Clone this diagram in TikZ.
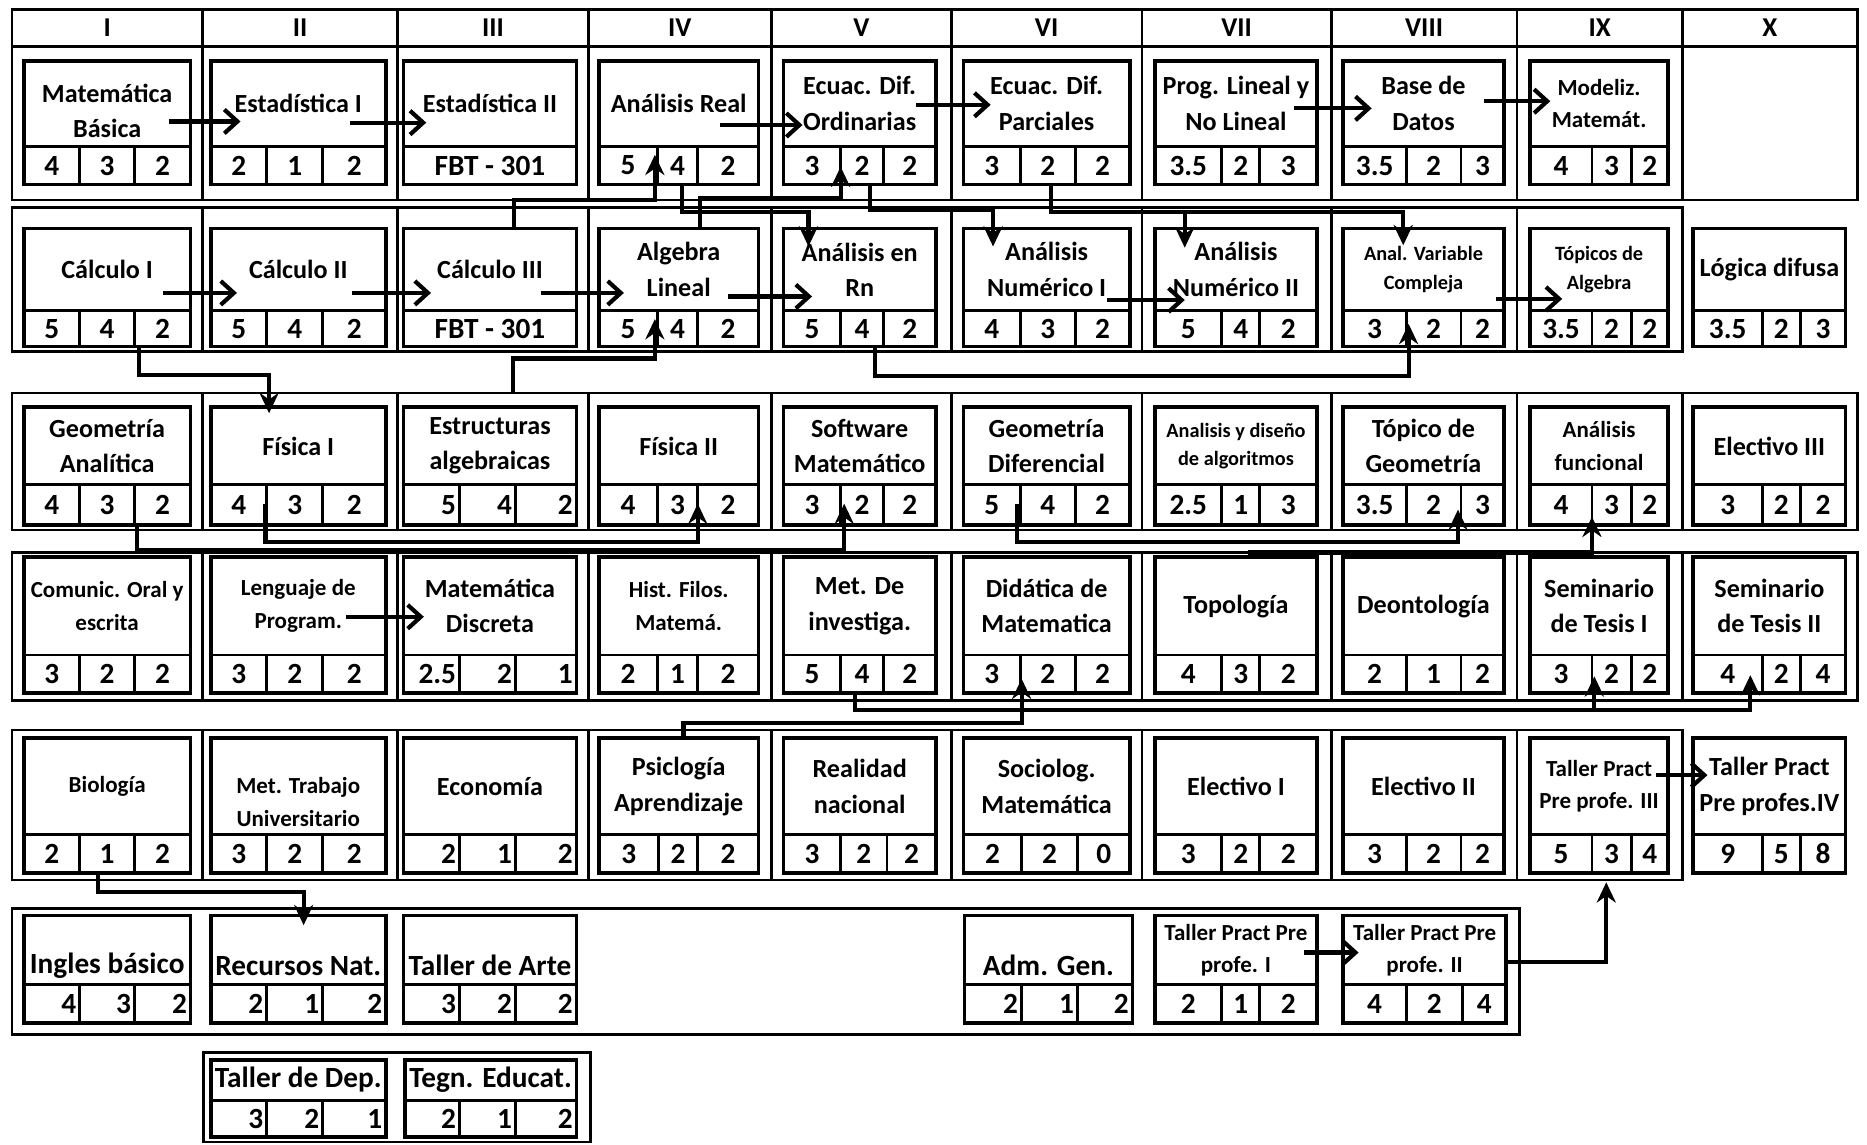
\documentclass[tikz,border=0pt]{standalone}
\usepackage{fontspec}
\setmainfont{Carlito}
\usetikzlibrary{fit,calc,arrows.meta}

\tikzset{
  band/.style={line width=1.3pt},
  cboxst/.style={draw, line width=1.7pt, inner sep=0pt, outer sep=0pt},
  cell/.style={line width=1.3pt},
  ttl/.style={font=\bfseries\fontsize{12.5}{17}\selectfont, align=center, inner sep=0pt},
  ttls/.style={font=\bfseries\fontsize{9.7}{13.5}\selectfont},
  ttlm/.style={font=\bfseries\fontsize{11}{15.5}\selectfont},
  ttll/.style={font=\bfseries\fontsize{14}{16}\selectfont},
  num/.style={font=\bfseries\fontsize{14}{15}\selectfont, inner sep=1.5pt},
  hdr/.style={font=\bfseries\fontsize{13}{14}\selectfont, inner sep=0pt},
  conn/.style={line width=2pt},
  harr/.style={conn, -{Straight Barb[length=0.22cm,width=0.4cm]}},
  varr/.style={conn, -{Stealth[length=0.34cm,width=0.32cm]}},
}

% #1 title opts, #2 name, #3 xl, #4 xr, #5 ytop, #6 ysplit, #7 ybottom, #8 title
\newcommand\coursebox[8][]{%
  \node[cboxst, fit={(#3,#5) (#4,#7)}] (#2) {};
  \draw[cell] (#3,#6) -- (#4,#6);
  \node[ttl,#1] (#2-t) at ($(#3,#5)!.5!(#4,#6)$) {#8};
}
% #1 name, #2 ysplit, #3 d1, #4 d2, #5 n1, #6 n2, #7 n3
\newcommand\cnums[7]{%
  \draw[cell] (#3,#2) -- (#3,#2 |- #1.south);
  \draw[cell] (#4,#2) -- (#4,#2 |- #1.south);
  \node[num] (#1-a) at ($(#1.south west)!.5!(#3,#2)$) {#5};
  \node[num] (#1-b) at ($(#3,#2 |- #1.south)!.5!(#4,#2)$) {#6};
  \node[num] (#1-c) at ($(#4,#2)!.5!(#1.south east)$) {#7};
}
\newcommand\cnumsr[7]{%
  \draw[cell] (#3,#2) -- (#3,#2 |- #1.south);
  \draw[cell] (#4,#2) -- (#4,#2 |- #1.south);
  \node[num,anchor=east] (#1-a) at ($(#3,#2)!.5!(#3,#2 |- #1.south)$) {#5};
  \node[num,anchor=east] (#1-b) at ($(#4,#2)!.5!(#4,#2 |- #1.south)$) {#6};
  \node[num,anchor=east] (#1-c) at ($(#1.east |- 0,#2)!.5!(#1.south east)$) {#7};
}
\newcommand\cnumone[3]{%
  \node[num] (#1-a) at ($(#1.south west)!.5!(#1.east |- 0,#2)$) {#3};
}

\begin{document}
\begin{tikzpicture}[x=0.02cm,y=-0.02cm]
\useasboundingbox (0,0) rectangle (1568,961);

% ---------- header and bands ----------
\draw[band] (10,8) rectangle (1560,39);
\draw[band] (10,39) rectangle (1560,168);
\foreach \x in {170,334,494,648,799,959,1118,1274,1413} \draw[band] (\x,8) -- (\x,168);
\foreach \x/\l/\n in {90/I/hI,252/II/hII,414/III/hIII,571/IV/hIV,723.5/V/hV,879/VI/hVI,1038.5/VII/hVII,1196/VIII/hVIII,1343.5/IX/hIX,1486.5/X/hX}
  \node[hdr] (\n) at (\x,23.5) {\l};

\draw[band] (10,174) rectangle (1413,295);
\foreach \x in {170,334,494,648,799,959,1118,1274} \draw[band] (\x,174) -- (\x,295);
\draw[band] (10,330) rectangle (1560,445);
\foreach \x in {170,334,494,648,799,959,1118,1274,1413} \draw[band] (\x,330) -- (\x,445);
\draw[band] (10,464) rectangle (1560,588);
\foreach \x in {170,334,494,648,799,959,1118,1274,1413} \draw[band] (\x,464) -- (\x,588);
\draw[band] (10,613) rectangle (1413,739);
\foreach \x in {170,334,494,648,799,959,1118,1274} \draw[band] (\x,613) -- (\x,739);
\draw[band] (10,763) rectangle (1276,869);
\draw[band] (171,884) rectangle (496,959);

% ---------- row 1 ----------
\coursebox[yshift=-0.12cm]{mb}{20}{160}{51}{123}{155}{Matemática\\Básica}
\cnums{mb}{123}{67}{113}{4}{3}{2}
\coursebox{est1}{177}{324}{51}{123}{155}{Estadística I}
\cnums{est1}{123}{224}{271}{2}{1}{2}
\coursebox{est2}{339}{484}{51}{123}{155}{Estadística II}
\cnumone{est2}{123}{FBT - 301}
\coursebox{anr}{503}{637}{51}{123}{155}{Análisis Real}
\cnums{anr}{123}{552}{586}{5}{4}{2}
\coursebox{edo}{658}{786}{51}{123}{155}{Ecuac. Dif.\\Ordinarias}
\cnums{edo}{123}{706}{742}{3}{2}{2}
\coursebox{edp}{809}{949}{51}{123}{155}{Ecuac. Dif.\\Parciales}
\cnums{edp}{123}{857}{903}{3}{2}{2}
\coursebox{prog}{970}{1106}{51}{123}{155}{Prog. Lineal y\\No Lineal}
\cnums{prog}{123}{1026}{1058}{3.5}{2}{3}
\coursebox{bd}{1128}{1263}{51}{123}{155}{Base de\\Datos}
\cnums{bd}{123}{1181}{1227}{3.5}{2}{3}
\coursebox[ttlm]{mod}{1285}{1401}{51}{123}{155}{Modeliz.\\Matemát.}
\cnums{mod}{123}{1337}{1370}{4}{3}{2}

% ---------- row 2 ----------
\coursebox{c1}{20}{160}{192}{261}{291}{Cálculo I}
\cnums{c1}{261}{67}{113}{5}{4}{2}
\coursebox{c2}{177}{324}{192}{261}{291}{Cálculo II}
\cnums{c2}{261}{224}{271}{5}{4}{2}
\coursebox{c3}{339}{484}{192}{261}{291}{Cálculo III}
\cnumone{c3}{261}{FBT - 301}
\coursebox{al}{503}{637}{192}{261}{291}{Algebra\\Lineal}
\cnums{al}{261}{552}{586}{5}{4}{2}
\coursebox{arn}{658}{786}{192}{261}{291}{Análisis en\\Rn}
\cnums{arn}{261}{706}{742}{5}{4}{2}
\coursebox{an1}{809}{949}{192}{261}{291}{Análisis\\Numérico I}
\cnums{an1}{261}{857}{903}{4}{3}{2}
\coursebox{an2}{970}{1106}{192}{261}{291}{Análisis\\Numérico II}
\cnums{an2}{261}{1026}{1058}{5}{4}{2}
\coursebox[ttls]{avc}{1128}{1263}{192}{261}{291}{Anal. Variable\\Compleja}
\cnums{avc}{261}{1181}{1227}{3}{2}{2}
\coursebox[ttls]{ta}{1285}{1401}{192}{261}{291}{Tópicos de\\Algebra}
\cnums{ta}{261}{1337}{1370}{3.5}{2}{2}
\coursebox{ld}{1422}{1550}{192}{261}{291}{Lógica difusa}
\cnums{ld}{261}{1480}{1512}{3.5}{2}{3}

% ---------- row 3 ----------
\coursebox{ga}{20}{160}{342}{407}{441}{Geometría\\Analítica}
\cnums{ga}{407}{67}{113}{4}{3}{2}
\coursebox{f1}{177}{324}{342}{407}{441}{Física I}
\cnums{f1}{407}{224}{271}{4}{3}{2}
\coursebox{ea}{339}{484}{342}{407}{441}{Estructuras\\algebraicas}
\cnumsr{ea}{407}{386}{433}{5}{4}{2}
\coursebox{f2}{503}{637}{342}{407}{441}{Física II}
\cnums{f2}{407}{552}{586}{4}{3}{2}
\coursebox{sm}{658}{786}{342}{407}{441}{Software\\Matemático}
\cnums{sm}{407}{706}{742}{3}{2}{2}
\coursebox{gd}{809}{949}{342}{407}{441}{Geometría\\Diferencial}
\cnums{gd}{407}{857}{903}{5}{4}{2}
\coursebox[ttls]{ada}{970}{1106}{342}{407}{441}{Analisis y diseño\\de algoritmos}
\cnums{ada}{407}{1026}{1058}{2.5}{1}{3}
\coursebox{tg}{1128}{1263}{342}{407}{441}{Tópico de\\Geometría}
\cnums{tg}{407}{1181}{1227}{3.5}{2}{3}
\coursebox[ttlm]{af}{1285}{1401}{342}{407}{441}{Análisis\\funcional}
\cnums{af}{407}{1337}{1370}{4}{3}{2}
\coursebox{e3}{1422}{1550}{342}{407}{441}{Electivo III}
\cnums{e3}{407}{1480}{1512}{3}{2}{2}

% ---------- row 4 ----------
\coursebox[ttlm]{co}{20}{160}{468}{550}{582}{Comunic. Oral y\\escrita}
\cnums{co}{550}{67}{113}{3}{2}{2}
\coursebox[ttlm]{lp}{177}{324}{468}{550}{582}{Lenguaje de\\Program.}
\cnums{lp}{550}{224}{271}{3}{2}{2}
\coursebox{md}{339}{484}{468}{550}{582}{Matemática\\Discreta}
\cnumsr{md}{550}{386}{433}{2.5}{2}{1}
\coursebox[ttlm]{hf}{503}{637}{468}{550}{582}{Hist. Filos.\\Matemá.}
\cnums{hf}{550}{552}{586}{2}{1}{2}
\coursebox{mi}{658}{786}{468}{550}{582}{Met. De\\investiga.}
\cnums{mi}{550}{706}{742}{5}{4}{2}
\coursebox{dm}{809}{949}{468}{550}{582}{Didática de\\Matematica}
\cnums{dm}{550}{857}{903}{3}{2}{2}
\coursebox{top}{970}{1106}{468}{550}{582}{Topología}
\cnums{top}{550}{1026}{1058}{4}{3}{2}
\coursebox{deo}{1128}{1263}{468}{550}{582}{Deontología}
\cnums{deo}{550}{1181}{1227}{2}{1}{2}
\coursebox{st1}{1285}{1401}{468}{550}{582}{Seminario\\de Tesis I}
\cnums{st1}{550}{1337}{1370}{3}{2}{2}
\coursebox{st2}{1422}{1550}{468}{550}{582}{Seminario\\de Tesis II}
\cnums{st2}{550}{1480}{1512}{4}{2}{4}

% ---------- row 5 ----------
\coursebox[ttlm]{bio}{20}{160}{620}{701}{733}{Biología}
\cnums{bio}{701}{67}{113}{2}{1}{2}
\coursebox[ttlm,yshift=-0.26cm]{mtu}{177}{324}{620}{701}{733}{Met. Trabajo\\Universitario}
\cnums{mtu}{701}{224}{271}{3}{2}{2}
\coursebox{eco}{339}{484}{620}{701}{733}{Economía}
\cnumsr{eco}{701}{386}{433}{2}{1}{2}
\coursebox{psi}{503}{637}{620}{701}{733}{Psiclogía\\Aprendizaje}
\cnums{psi}{701}{553}{586}{3}{2}{2}
\coursebox{rn}{658}{786}{620}{701}{733}{Realidad\\nacional}
\cnums{rn}{701}{706}{745}{3}{2}{2}
\coursebox{soc}{809}{949}{620}{701}{733}{Sociolog.\\Matemática}
\cnums{soc}{701}{858}{905}{2}{2}{0}
\coursebox{el1}{970}{1106}{620}{701}{733}{Electivo I}
\cnums{el1}{701}{1026}{1058}{3}{2}{2}
\coursebox{el2}{1128}{1263}{620}{701}{733}{Electivo II}
\cnums{el2}{701}{1181}{1227}{3}{2}{2}
\coursebox[ttlm]{tp3}{1285}{1401}{620}{701}{733}{Taller Pract\\Pre profe. III}
\cnums{tp3}{701}{1337}{1370}{5}{3}{4}
\coursebox{tp4}{1422}{1550}{620}{701}{733}{Taller Pract\\Pre profes.IV}
\cnums{tp4}{701}{1480}{1512}{9}{5}{8}

% ---------- row 6 ----------
\coursebox[ttll,yshift=-0.26cm]{ing}{20}{160}{769}{827}{859}{Ingles básico}
\cnumsr{ing}{827}{67}{113}{4}{3}{2}
\coursebox[ttll,yshift=-0.26cm]{rec}{177}{324}{769}{827}{859}{Recursos Nat.}
\cnumsr{rec}{827}{224}{271}{2}{1}{2}
\coursebox[ttll,yshift=-0.26cm]{tar}{339}{484}{769}{827}{859}{Taller de Arte}
\cnumsr{tar}{827}{386}{433}{3}{2}{2}
\coursebox[ttll,yshift=-0.26cm]{adm}{810}{951}{769}{827}{859}{Adm. Gen.}
\cnumsr{adm}{827}{858}{905}{2}{1}{2}
\coursebox[ttlm]{tp1}{970}{1106}{769}{827}{859}{Taller Pract Pre\\profe. I}
\cnums{tp1}{827}{1026}{1058}{2}{1}{2}
\coursebox[ttlm]{tp2}{1128}{1265}{769}{827}{859}{Taller Pract Pre\\profe. II}
\cnums{tp2}{827}{1181}{1228}{4}{2}{4}

% ---------- row 7 ----------
\coursebox[ttll]{tdep}{177}{324}{890}{924}{955}{Taller de Dep.}
\cnumsr{tdep}{924}{224}{271}{3}{2}{1}
\coursebox[ttll]{tedu}{340}{484}{890}{924}{955}{Tegn. Educat.}
\cnumsr{tedu}{924}{386}{433}{2}{1}{2}

% ---------- horizontal arrows ----------
\draw[harr] ($(mb.east)+(-18,-1)$) -- ($(est1.west)+(25,-1)$);
\draw[harr] ($(est1.east)+(-30,0)$) -- ($(est2.west)+(19,0)$);
\draw[harr] ($(anr.east)+(-32,2)$) -- ($(edo.west)+(16,2)$);
\draw[harr] ($(edo.east)+(-17,-15)$) -- ($(edp.west)+(23,-15)$);
\draw[harr] ($(prog.east)+(-19,-12)$) -- ($(bd.west)+(24,-12)$);
\draw[harr] ($(bd.east)+(-17,-18)$) -- ($(mod.west)+(17,-18)$);
\draw[harr] ($(c1.east)+(-23,4.5)$) -- ($(c2.west)+(22,4.5)$);
\draw[harr] ($(c2.east)+(-28,4.5)$) -- ($(c3.west)+(23,4.5)$);
\draw[harr] ($(c3.east)+(-30,4.5)$) -- ($(al.west)+(21,4.5)$);
\draw[harr] ($(al.east)+(-26,7.5)$) -- ($(arn.west)+(24,7.5)$);
\draw[harr] ($(an1.east)+(-19,10.5)$) -- ($(an2.west)+(25,10.5)$);
\draw[harr] ($(avc.east)+(-7,9.5)$) -- ($(ta.west)+(27,9.5)$);
\draw[harr] ($(lp.east)+(-33,-7)$) -- ($(md.west)+(17,-7)$);
\draw[harr] ($(tp3.east)+(-10,-25.5)$) -- ($(tp4.west)+(12,-25.5)$);
\draw[harr] ($(tp1.east)+(-11,-14)$) -- ($(tp2.west)+(13,-14)$);

% ---------- elbow connectors ----------
\draw[varr] ($(c1.south)+(27,0)$) |- ($(f1.north)+(-24.5,-27)$) -- ($(f1.north)+(-24.5,5)$);
\draw[varr] ($(ea.north)+(19.5,-12)$) |- ($(al.south)+(-20,10)$) -- ($(al.south)+(-20,-23)$);
\draw[varr] ($(c3.north)+(20.5,0)$) |- ($(anr.south)+(-20,13)$) -- ($(anr.south)+(-20,-25)$);
\draw[varr] ($(anr.south)+(3,0)$) |- ($(arn.north)+(-43,-14)$) -- ($(arn.north)+(-43,15)$);
\draw[varr] ($(al.north)+(18,0)$) |- ($(edo.south)+(-16,11)$) -- ($(edo.south)+(-16,-15)$);
\draw[varr] ($(edo.south)+(9,0)$) |- ($(an1.north)+(-45,-16)$) -- ($(an1.north)+(-45,15)$);
\draw[varr] ($(edp.south)+(4,0)$) |- ($(an2.north)+(-43,-14)$) -- ($(an2.north)+(-43,16)$);
\draw[varr] ($(edp.south)+(4,0)$) |- ($(avc.north)+(-17,-14)$) -- ($(avc.north)+(-17,14)$);
\draw[varr] ($(arn.south)+(13,0)$) |- ($(avc.south)+(-12.5,25)$) -- ($(avc.south)+(-12.5,-19)$);
\draw[varr] ($(ga.south)+(25,0)$) |- ($(sm.south)+(-13,21)$) -- ($(sm.south)+(-13,-18)$);
\draw[varr] ($(f1.south)+(-27.5,-18)$) |- ($(f2.south)+(16,14)$) -- ($(f2.south)+(16,-18)$);
\draw[varr] ($(gd.south)+(-25,-18)$) |- ($(tg.south)+(29,14)$) -- ($(tg.south)+(29,-13)$);
\draw[varr] ($(top.north)+(12,0)$) |- ($(af.south)+(-6,23)$) -- ($(af.south)+(-6,-7)$);
\draw[varr] ($(mi.south)+(-4,0)$) |- ($(st1.south)+(-4,14)$) -- ($(st1.south)+(-4,-14)$);
\draw[varr] ($(mi.south)+(-4,0)$) |- ($(st2.south)+(-16,14)$) -- ($(st2.south)+(-16,-15)$);
\draw[varr] ($(psi.north)+(4,0)$) |- ($(dm.south)+(-21,25)$) -- ($(dm.south)+(-21,-12)$);
\draw[varr] ($(bio.south)+(-8,0)$) |- ($(rec.north)+(4.5,-20)$) -- ($(rec.north)+(4.5,8)$);
\draw[varr] ($(tp2.east)+(0,-6)$) -| ($(tp3.south)+(6,8)$);
\end{tikzpicture}
\end{document}
